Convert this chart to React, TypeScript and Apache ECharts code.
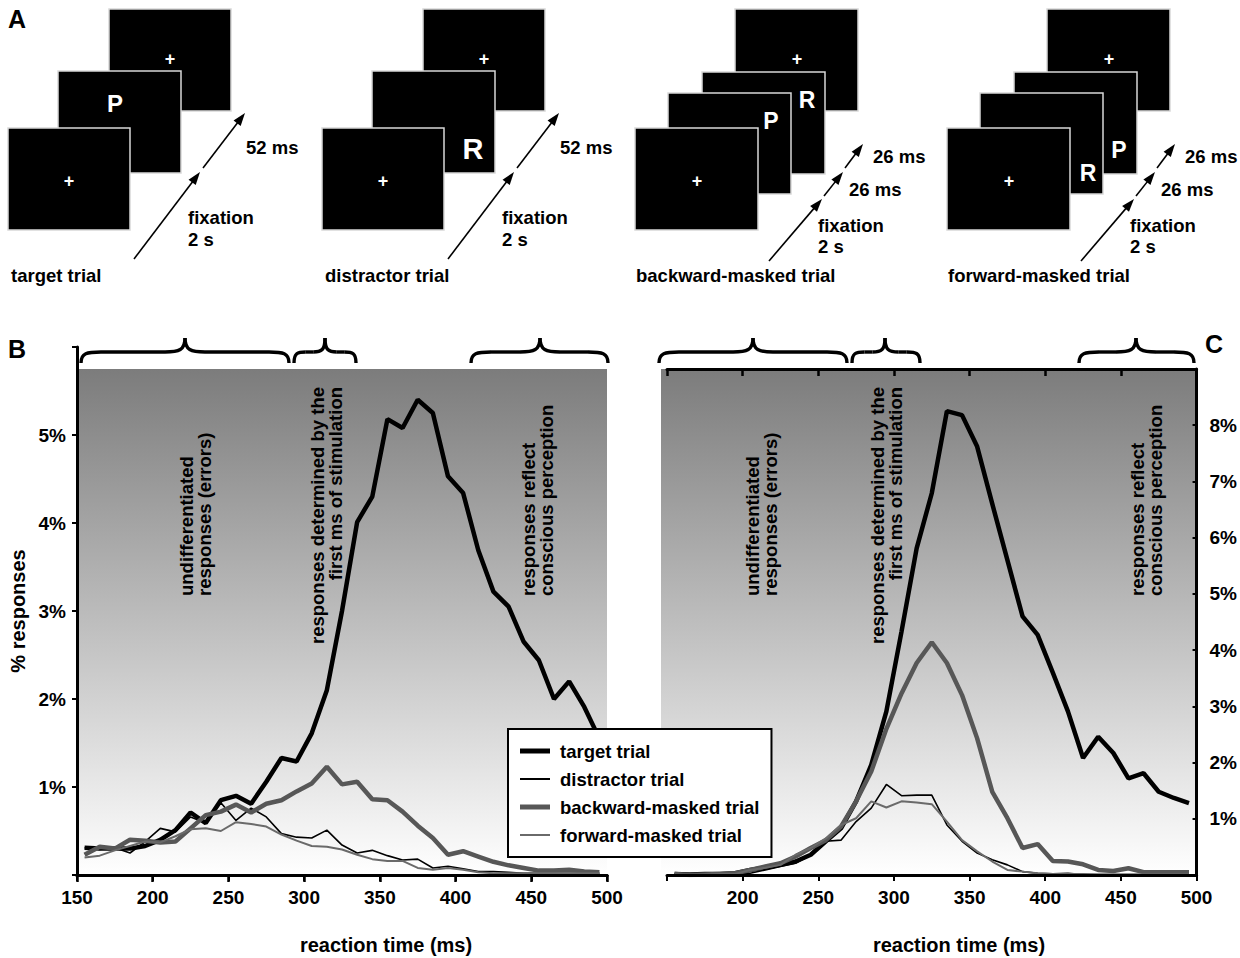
import React, { useEffect, useRef } from 'react';
import * as echarts from 'echarts';

const FONT = "'Liberation Sans', Arial, Helvetica, sans-serif";

// 10-ms reaction-time bins (bin centres, ms)
const reactionBins = [155, 165, 175, 185, 195, 205, 215, 225, 235, 245, 255, 265, 275, 285, 295, 305, 315, 325, 335, 345, 355, 365, 375, 385, 395, 405, 415, 425, 435, 445, 455, 465, 475, 485, 495];

const seriesNames = ['target trial', 'distractor trial', 'backward-masked trial', 'forward-masked trial'];

// Panel B (% responses)
const targetB = [0.31, 0.30, 0.30, 0.30, 0.33, 0.40, 0.51, 0.71, 0.59, 0.85, 0.90, 0.81, 1.06, 1.33, 1.29, 1.61, 2.10, 3.00, 4.01, 4.30, 5.18, 5.08, 5.40, 5.25, 4.53, 4.34, 3.69, 3.22, 3.05, 2.65, 2.44, 2.00, 2.20, 1.91, 1.55];
const distractorB = [0.31, 0.29, 0.31, 0.25, 0.38, 0.53, 0.49, 0.66, 0.59, 0.82, 0.62, 0.76, 0.66, 0.47, 0.43, 0.42, 0.51, 0.34, 0.25, 0.28, 0.22, 0.17, 0.18, 0.08, 0.10, 0.07, 0.04, 0.04, 0.03, 0.02, 0.02, 0.02, 0.02, 0.02, 0.02];
const backwardB = [0.23, 0.32, 0.30, 0.40, 0.39, 0.37, 0.38, 0.53, 0.68, 0.72, 0.80, 0.71, 0.81, 0.85, 0.95, 1.04, 1.23, 1.03, 1.06, 0.86, 0.85, 0.72, 0.56, 0.42, 0.23, 0.27, 0.21, 0.15, 0.11, 0.08, 0.05, 0.05, 0.06, 0.04, 0.03];
const forwardB = [0.20, 0.22, 0.28, 0.33, 0.38, 0.37, 0.44, 0.52, 0.53, 0.50, 0.60, 0.58, 0.55, 0.46, 0.39, 0.33, 0.32, 0.29, 0.23, 0.18, 0.16, 0.16, 0.08, 0.06, 0.08, 0.06, 0.03, 0.02, 0.02, 0.02, 0.02, 0.02, 0.02, 0.02, 0.02];

// Panel C (% responses)
const targetC = [0.02, 0.01, 0.02, 0.02, 0.03, 0.09, 0.13, 0.18, 0.24, 0.36, 0.60, 0.83, 1.31, 1.96, 2.91, 4.33, 5.81, 6.79, 8.25, 8.18, 7.62, 6.60, 5.60, 4.60, 4.27, 3.60, 2.91, 2.08, 2.46, 2.17, 1.72, 1.81, 1.48, 1.37, 1.28];
const distractorC = [0.02, 0.02, 0.03, 0.02, 0.02, 0.03, 0.09, 0.15, 0.21, 0.36, 0.60, 0.62, 0.95, 1.19, 1.61, 1.41, 1.42, 1.42, 0.89, 0.60, 0.39, 0.27, 0.18, 0.06, 0.03, 0.02, 0.03, 0.01, 0.01, 0.01, 0.01, 0.01, 0.01, 0.01, 0.01];
const backwardC = [0.02, 0.00, 0.01, 0.02, 0.03, 0.09, 0.15, 0.21, 0.33, 0.48, 0.62, 0.86, 1.31, 1.84, 2.60, 3.23, 3.77, 4.14, 3.77, 3.20, 2.43, 1.48, 1.01, 0.48, 0.55, 0.25, 0.24, 0.19, 0.09, 0.07, 0.12, 0.05, 0.05, 0.05, 0.05];
const forwardC = [0.01, 0.00, 0.01, 0.02, 0.02, 0.09, 0.13, 0.18, 0.36, 0.48, 0.65, 0.89, 1.01, 1.31, 1.20, 1.31, 1.29, 1.26, 0.95, 0.62, 0.42, 0.24, 0.09, 0.06, 0.03, 0.02, 0.02, 0.02, 0.01, 0.01, 0.01, 0.01, 0.01, 0.01, 0.01];

const panelBData = [targetB, distractorB, backwardB, forwardB];
const panelCData = [targetC, distractorC, backwardC, forwardC];

const lineLooks = [
  { color: '#000000', width: 4.5, icon: 'path://M0,0L60,0L60,10L0,10Z' },
  { color: '#000000', width: 1.6, icon: 'path://M0,0L60,0L60,4L0,4Z' },
  { color: '#575757', width: 4.5, icon: 'path://M0,0L60,0L60,10L0,10Z' },
  { color: '#6a6a6a', width: 2, icon: 'path://M0,0L60,0L60,4L0,4Z' },
];

const annotationTexts = [
  'undifferentiated\nresponses (errors)',
  'responses determined by the\nfirst ms of stimulation',
  'responses reflect\nconscious perception',
];

function arrow(x1: number, y1: number, x2: number, y2: number) {
  const dx = x2 - x1, dy = y2 - y1;
  const L = Math.hypot(dx, dy);
  const ux = dx / L, uy = dy / L;
  const hl = 13, hw = 4.5;
  const bx = x2 - ux * hl, by = y2 - uy * hl;
  return [
    { type: 'line', shape: { x1, y1, x2: bx + ux * 2, y2: by + uy * 2 }, style: { stroke: '#000', lineWidth: 1.6 } },
    { type: 'polygon', shape: { points: [[x2, y2], [bx - uy * hw, by + ux * hw], [bx + uy * hw, by - ux * hw]] }, style: { fill: '#000' } },
  ];
}

function brace(x1: number, x2: number, xm: number) {
  const yb = 363, ym = 352, yt = 338;
  const els: any[] = [];
  const st = { stroke: '#000', lineWidth: 3.4, fill: null };
  const halves = [[x1, xm], [x2, xm]];
  halves.forEach(([xe, xp]) => {
    const s = xp > xe ? 1 : -1;
    const half = Math.abs(xp - xe);
    const r = Math.min(20, half * 0.38);
    els.push({ type: 'bezierCurve', z: 1, shape: { x1: xe, y1: yb, cpx1: xe, cpy1: ym + 1, cpx2: xe + s * r * 0.3, cpy2: ym, x2: xe + s * r, y2: ym }, style: st });
    els.push({ type: 'line', z: 1, shape: { x1: xe + s * r, y1: ym, x2: xp - s * r, y2: ym }, style: st });
    els.push({ type: 'bezierCurve', z: 1, shape: { x1: xp - s * r, y1: ym, cpx1: xp - s * r * 0.3, cpy1: ym, cpx2: xp, cpy2: ym - 2, x2: xp, y2: yt }, style: st });
  });
  return els;
}

function txt(x: number, y: number, text: string, size: number, extra: any = {}) {
  return {
    type: 'text', x, y, z: 1,
    style: { text, fontSize: size, fontWeight: 'bold', fontFamily: FONT, fill: '#000', align: 'left', verticalAlign: 'middle', ...extra },
  };
}

function screen(x: number, y: number, w: number, h: number) {
  return { type: 'rect', shape: { x, y, width: w, height: h }, style: { fill: '#000', stroke: '#d8d8d8', lineWidth: 1.5 } };
}

function plus(x: number, y: number) {
  return txt(x, y, '+', 18, { fill: '#fff', align: 'center' });
}

function buildPanelA() {
  const els: any[] = [];
  [0, 314].forEach((ox, k) => {
    els.push(screen(109 + ox, 9, 122, 102));
    els.push(screen(58 + ox, 71, 123, 102));
    els.push(screen(8 + ox, 128, 122, 102));
    els.push(plus(170 + ox, 59));
    els.push(plus(69 + ox, 181));
    if (k === 0) els.push(txt(115, 103, 'P', 24, { fill: '#fff', align: 'center' }));
    else els.push(txt(473, 149, 'R', 29, { fill: '#fff', align: 'center' }));
    els.push(...arrow(134 + ox, 259, 200 + ox, 172));
    els.push(...arrow(203 + ox, 168, 245 + ox, 113));
    els.push(txt(246 + ox, 147, '52 ms', 18.5));
    els.push(txt(188 + ox, 217, 'fixation', 18.5));
    els.push(txt(188 + ox, 239, '2 s', 18.5));
  });
  els.push(txt(11, 275, 'target trial', 18.5));
  els.push(txt(325, 275, 'distractor trial', 18.5));
  [0, 312].forEach((ox, k) => {
    els.push(screen(735 + ox, 9, 123, 102));
    els.push(screen(702 + ox, 72, 123, 102));
    els.push(screen(668 + ox, 93, 123, 101));
    els.push(screen(635 + ox, 128, 123, 102));
    els.push(plus(797 + ox, 59));
    els.push(plus(697 + ox, 181));
    if (k === 0) {
      els.push(txt(771, 121, 'P', 23, { fill: '#fff', align: 'center' }));
      els.push(txt(807, 100, 'R', 23, { fill: '#fff', align: 'center' }));
    } else {
      els.push(txt(1088, 173, 'R', 23, { fill: '#fff', align: 'center' }));
      els.push(txt(1119, 150, 'P', 23, { fill: '#fff', align: 'center' }));
    }
    els.push(...arrow(769 + ox, 261, 822 + ox, 199));
    els.push(...arrow(824 + ox, 196, 843 + ox, 172));
    els.push(...arrow(845 + ox, 168, 863 + ox, 144));
    els.push(txt(873 + ox, 156, '26 ms', 18.5));
    els.push(txt(849 + ox, 189, '26 ms', 18.5));
    els.push(txt(818 + ox, 225, 'fixation', 18.5));
    els.push(txt(818 + ox, 246, '2 s', 18.5));
  });
  els.push(txt(636, 275, 'backward-masked trial', 18.5));
  els.push(txt(948, 275, 'forward-masked trial', 18.5));
  return els;
}

function annotation(x: number, y: number, text: string, align: string) {
  return {
    type: 'text', x, y, z: 1, rotation: Math.PI / 2,
    style: { text, fontSize: 18.5, fontWeight: 'bold', fontFamily: FONT, fill: '#000', align, verticalAlign: 'middle', lineHeight: 18 },
  };
}

export default function App() {
  const ref = useRef<HTMLDivElement>(null);
  useEffect(() => {
    if (!ref.current) return;
    const chart = echarts.init(ref.current, undefined, { renderer: 'svg' });
    const grad = () => new echarts.graphic.LinearGradient(0, 0, 0, 1, [
      { offset: 0, color: '#7c7c7c' },
      { offset: 1, color: '#ffffff' },
    ]);
    const tickLabel = { fontSize: 19, fontWeight: 'bold', fontFamily: FONT, color: '#000' };
    const axisLine = { show: true, lineStyle: { color: '#000', width: 3 } };
    const hiddenAxis = (gridIndex: number) => ({ type: 'value', gridIndex, min: 0, max: 1, show: false });

    const series: any[] = [];
    seriesNames.forEach((name, i) => {
      series.push({
        name, type: 'line', xAxisIndex: 0, yAxisIndex: 0, symbol: 'none', z: 2,
        lineStyle: { color: lineLooks[i].color, width: lineLooks[i].width },
        itemStyle: { color: lineLooks[i].color },
        data: reactionBins.map((x, k) => [x, panelBData[i][k]]),
      });
    });
    seriesNames.forEach((name, i) => {
      series.push({
        name, type: 'line', xAxisIndex: 2, yAxisIndex: 2, symbol: 'none', z: 2,
        lineStyle: { color: lineLooks[i].color, width: lineLooks[i].width },
        itemStyle: { color: lineLooks[i].color },
        data: reactionBins.map((x, k) => [x, panelCData[i][k]]),
      });
    });

    const graphics: any[] = [
      txt(8, 19, 'A', 25),
      txt(8, 349, 'B', 25),
      txt(1205, 344, 'C', 25),
      ...buildPanelA(),
      ...brace(81, 289, 185),
      ...brace(294, 356, 325),
      ...brace(471, 608, 540),
      ...brace(659, 847, 753),
      ...brace(852, 920, 885),
      ...brace(1079, 1194, 1136),
      annotation(195, 596, annotationTexts[0], 'left'),
      annotation(326, 387, annotationTexts[1], 'right'),
      annotation(537, 596, annotationTexts[2], 'left'),
      annotation(761, 596, annotationTexts[0], 'left'),
      annotation(886, 387, annotationTexts[1], 'right'),
      annotation(1146, 596, annotationTexts[2], 'left'),
      txt(386, 945, 'reaction time (ms)', 20, { align: 'center' }),
      txt(959, 945, 'reaction time (ms)', 20, { align: 'center' }),
    ];

    chart.setOption({
      animation: false,
      backgroundColor: '#ffffff',
      textStyle: { fontFamily: FONT },
      grid: [
        { left: 77, top: 347, width: 530, height: 528 },
        { left: 77, top: 369, width: 530, height: 506, show: true, backgroundColor: grad(), borderWidth: 0, z: 0 },
        { left: 667, top: 369, width: 531, height: 506 },
        { left: 661, top: 369, width: 537, height: 506, show: true, backgroundColor: grad(), borderWidth: 0, z: 0 },
      ],
      xAxis: [
        {
          type: 'value', gridIndex: 0, position: 'bottom', min: 150, max: 500, interval: 50, z: 3,
          axisLine, splitLine: { show: false },
          axisTick: { show: true, length: 6, lineStyle: { color: '#000', width: 2 } },
          axisLabel: { ...tickLabel, margin: 13, showMinLabel: true, showMaxLabel: true },
        },
        {
          type: 'value', gridIndex: 1, position: 'top', min: 150, max: 500, interval: 50, z: 3,
          axisLine, splitLine: { show: false },
          axisTick: { show: true, inside: true, length: 7, lineStyle: { color: '#000', width: 2.5 } },
          axisLabel: { show: false },
        },
        {
          type: 'value', gridIndex: 2, position: 'bottom', min: 150, max: 500, interval: 50, z: 3,
          axisLine, splitLine: { show: false },
          axisTick: { show: true, length: 6, lineStyle: { color: '#000', width: 2 } },
          axisLabel: { ...tickLabel, margin: 13, showMaxLabel: true, formatter: (v: number) => (v === 150 ? '' : String(v)) },
        },
        {
          type: 'value', gridIndex: 2, position: 'top', min: 150, max: 500, interval: 50, z: 3,
          axisLine, splitLine: { show: false },
          axisTick: { show: true, inside: true, length: 7, lineStyle: { color: '#000', width: 2.5 } },
          axisLabel: { show: false },
        },
        hiddenAxis(3),
      ],
      yAxis: [
        {
          type: 'value', gridIndex: 0, position: 'left', min: 0, max: 6, interval: 1, z: 3,
          axisLine, splitLine: { show: false },
          axisTick: { show: true, length: 5, lineStyle: { color: '#000', width: 2 } },
          axisLabel: { ...tickLabel, margin: 11, formatter: (v: number) => (v >= 1 && v <= 5 ? v + '%' : '') },
          name: '% responses', nameLocation: 'middle', nameRotate: 90, nameGap: 49,
          nameTextStyle: { fontSize: 20, fontWeight: 'bold', fontFamily: FONT, color: '#000' },
        },
        hiddenAxis(1),
        {
          type: 'value', gridIndex: 2, position: 'right', min: 0, max: 9, interval: 1, z: 3,
          axisLine, splitLine: { show: false },
          axisTick: { show: true, inside: true, length: 4, lineStyle: { color: '#000', width: 2 } },
          axisLabel: { ...tickLabel, margin: 13, formatter: (v: number) => (v >= 1 && v <= 8 ? v + '%' : '') },
        },
        hiddenAxis(3),
      ],
      legend: {
        left: 508, top: 729, orient: 'vertical', selectedMode: false, z: 10,
        backgroundColor: '#ffffff', borderColor: '#000000', borderWidth: 2,
        padding: [12, 12, 12, 12], itemWidth: 30, itemHeight: 14, itemGap: 8,
        symbolKeepAspect: true,
        textStyle: { fontSize: 18.5, fontWeight: 'bold', fontFamily: FONT, color: '#000', padding: [0, 0, 0, 5], lineHeight: 20 },
        data: seriesNames.map((name, i) => ({
          name,
          icon: lineLooks[i].icon,
          itemStyle: { color: lineLooks[i].color, borderWidth: 0 },
        })),
      },
      graphic: graphics,
      series,
    });
    return () => chart.dispose();
  }, []);
  return <div ref={ref} style={{ position: 'fixed', left: 0, top: 0, width: 1240, height: 958 }} />;
}
